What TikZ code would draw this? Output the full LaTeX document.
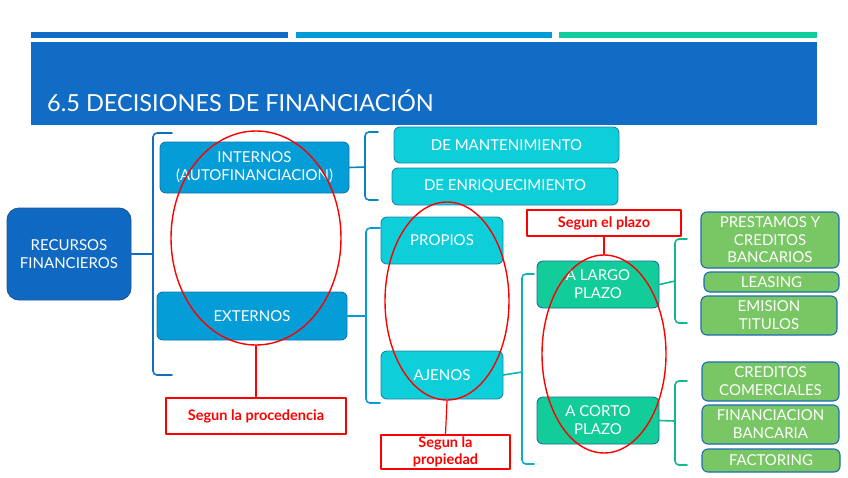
\documentclass[tikz,border=0pt]{standalone}
\usepackage{fontspec}
\setmainfont{Lato}
\usetikzlibrary{shapes.geometric}
\definecolor{barone}{HTML}{106CC4}
\definecolor{bartwo}{HTML}{049CD8}
\definecolor{barthree}{HTML}{10CE9C}
\definecolor{rffill}{HTML}{0F68C2}
\definecolor{rfline}{HTML}{1A5696}
\definecolor{blfill}{HTML}{049DD8}
\definecolor{blline}{HTML}{0E78AE}
\definecolor{cyfill}{HTML}{0DCFDA}
\definecolor{cyline}{HTML}{1A86AE}
\definecolor{tlfill}{HTML}{12CC9A}
\definecolor{tlline}{HTML}{1A6EA0}
\definecolor{grfill}{HTML}{79C664}
\definecolor{grline}{HTML}{1C6CB4}
\definecolor{marker}{HTML}{FF0000}
\begin{document}
\begin{tikzpicture}[x=1pt,y=-1pt,line cap=round,line join=round,
  box/.style={rounded corners=6pt,draw,line width=0.9pt,text=white,align=center,
    inner sep=0pt,font=\fontsize{15}{18}\selectfont},
  rfbox/.style={box,fill=rffill,draw=rfline,rounded corners=12pt},
  blbox/.style={box,fill=blfill,draw=blline},
  cybox/.style={box,fill=cyfill,draw=cyline},
  tlbox/.style={box,fill=tlfill,draw=tlline},
  grbox/.style={box,fill=grfill,draw=grline,line width=1.1pt},
  brace/.style={draw=#1,line width=1.6pt,rounded corners=4pt},
  tag/.style={draw=marker,fill=white,line width=1.2pt,text=marker,align=center,
    inner sep=0pt,font=\fontsize{14.5}{17}\selectfont\bfseries},
  ring/.style={ellipse,draw=marker,line width=1.4pt,inner sep=0pt}]
  \useasboundingbox (0,0) rectangle (848,477);
  \fill[white] (0,0) rectangle (848,477);
  % header
  \fill[barone] (31,32) rectangle (288,38);
  \fill[bartwo] (296,32) rectangle (552,38);
  \fill[barthree] (559,32) rectangle (817,38);
  \fill[barone] (31,42) rectangle (817,125);
  \node[anchor=base west,inner sep=0pt,text=white,font=\fontsize{23.5}{28}\selectfont]
    (title) at (47,111) {6.5 DECISIONES DE FINANCIACIÓN};
  % boxes
  \node[rfbox,minimum width=124pt,minimum height=92pt] (rec) at (69,254) {RECURSOS\\FINANCIEROS};
  \node[blbox,minimum width=189pt,minimum height=51pt] (int) at (254.5,167.5) {INTERNOS\\(AUTOFINANCIACION)};
  \node[blbox,minimum width=190pt,minimum height=48pt] (ext) at (252,316) {EXTERNOS};
  \node[cybox,minimum width=225pt,minimum height=36pt] (mant) at (506.5,145) {DE MANTENIMIENTO};
  \node[cybox,minimum width=226pt,minimum height=37pt] (enr) at (505,186.5) {DE ENRIQUECIMIENTO};
  \node[cybox,minimum width=122pt,minimum height=47pt] (prop) at (442,240.5) {PROPIOS};
  \node[cybox,minimum width=122pt,minimum height=48pt] (aje) at (442,375) {AJENOS};
  \node[tlbox,minimum width=122pt,minimum height=47pt] (largo) at (598,284.5) {A LARGO\\PLAZO};
  \node[tlbox,minimum width=122pt,minimum height=47pt] (corto) at (598,420.5) {A CORTO\\PLAZO};
  \node[grbox,minimum width=138pt,minimum height=56pt,font=\fontsize{15}{17.5}\selectfont]
    (prest) at (770,240) {PRESTAMOS Y\\CREDITOS\\BANCARIOS};
  \node[grbox,minimum width=135pt,minimum height=20pt] (leas) at (771.5,282) {LEASING};
  \node[grbox,minimum width=136pt,minimum height=39pt] (emis) at (769,315.5) {EMISION\\TITULOS};
  \node[grbox,minimum width=137pt,minimum height=39pt] (cred) at (770.5,381.5) {CREDITOS\\COMERCIALES};
  \node[grbox,minimum width=137pt,minimum height=39pt] (fin) at (770.5,424.5) {FINANCIACION\\BANCARIA};
  \node[grbox,minimum width=138pt,minimum height=23pt] (fact) at (771,460.5) {FACTORING};
  % braces
  \draw[brace=barone] (rec.east) -- (153,254);
  \draw[brace=barone] (172,133) -- (153,133) -- (153,375) -- (172,375);
  \draw[brace=blline!70!bartwo] (int.east) -- (365,167);
  \draw[brace=blline!70!bartwo] (378,132) -- (365,132) -- (365,200) -- (378,200);
  \draw[brace=bartwo] (ext.east) -- (366,316);
  \draw[brace=bartwo] (380,228) -- (366,228) -- (366,403) -- (380,403);
  \draw[brace=cyfill!85!black] (aje.east) -- (522,372);
  \draw[brace=cyfill!85!black] (534,274) -- (522,274) -- (522,464) -- (534,464);
  \draw[brace=tlfill!90!black] (largo.east) -- (675,281);
  \draw[brace=tlfill!90!black] (687,239) -- (675,239) -- (675,323) -- (687,323);
  \draw[brace=tlfill!90!black] (corto.east) -- (675,421);
  \draw[brace=tlfill!90!black] (687,381) -- (675,381) -- (675,465) -- (687,465);
  % red notes
  \node[ring,minimum width=170pt,minimum height=214pt] (ringA) at (256,238) {};
  \node[ring,minimum width=124pt,minimum height=198pt] (ringB) at (447,301) {};
  \node[ring,minimum width=124pt,minimum height=198pt] (ringC) at (604,354) {};
  \node[tag,minimum width=180pt,minimum height=36pt] (procd) at (256,416) {Segun la procedencia};
  \node[tag,minimum width=129pt,minimum height=34pt] (propd) at (445.5,452) {Segun la\\propiedad};
  \node[tag,minimum width=154pt,minimum height=26pt] (plazo) at (604,223) {Segun el plazo};
  \draw[draw=marker,line width=1.2pt] (ringA.south) -- (procd.north);
  \draw[draw=marker,line width=1.2pt] (ringB.south) -- (propd.north);
  \draw[draw=marker,line width=1.2pt] (plazo.south) -- (ringC.north);
\end{tikzpicture}
\end{document}
